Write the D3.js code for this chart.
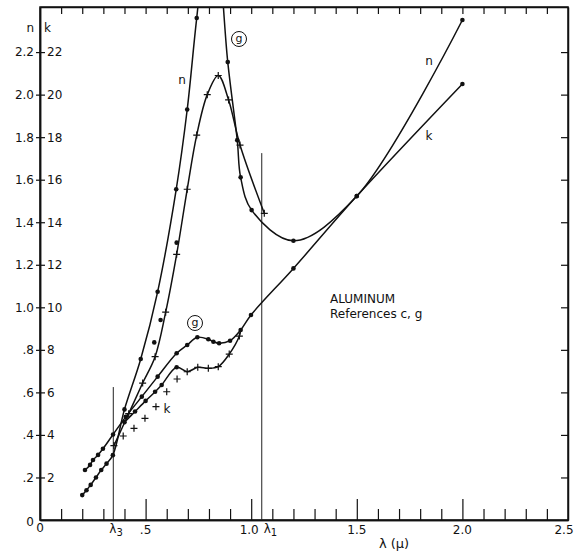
<!DOCTYPE html>
<html>
<head>
<meta charset="utf-8">
<script src="https://cdnjs.cloudflare.com/ajax/libs/d3/7.8.5/d3.min.js"></script>
<style>
  body { margin: 0; background: #fff; }
  text { font-family: "DejaVu Sans", sans-serif; fill: #111; }
</style>
</head>
<body>
<div id="chart"></div>
<script>
// wavelength in microns; n is read on the left scale, k on the right (k = 10 x n scale)
var nC = [[0.200,0.117],[0.220,0.140],[0.240,0.165],[0.265,0.200],[0.290,0.235],[0.315,0.265],
          [0.345,0.305],[0.400,0.520],[0.477,0.757],[0.557,1.073],[0.645,1.555],[0.697,1.930],
          [0.742,2.360],[0.815,2.950],[0.889,2.153],[0.934,1.786],[0.950,1.611],[1.002,1.457],
          [1.200,1.313],[1.500,1.523],[2.000,2.351]];
var nG = [[0.350,0.350],[0.420,0.500],[0.486,0.644],[0.545,0.768],[0.595,0.977],[0.647,1.249],
          [0.697,1.555],[0.742,1.810],[0.792,2.000],[0.844,2.090],[0.893,1.975],[0.947,1.763],
          [1.062,1.442]];
var nCExtra = [[0.541,0.835],[0.571,0.940],[0.647,1.304]];

var kC = [[0.213,2.35],[0.237,2.59],[0.251,2.82],[0.275,3.06],[0.298,3.35],[0.346,4.02],
          [0.406,4.85],[0.482,5.80],[0.557,6.74],[0.647,7.84],[0.697,8.23],[0.745,8.59],
          [0.797,8.50],[0.821,8.38],[0.848,8.31],[0.900,8.43],[0.950,8.93],[0.999,9.64],
          [1.200,11.83],[1.500,15.23],[2.000,20.50]];
var kCLow = [[0.400,4.60],[0.450,5.10],[0.500,5.60],[0.545,6.03],[0.576,6.35],[0.647,7.18]];
var kGLine = [[0.697,6.97],[0.747,7.18],[0.797,7.13],[0.844,7.21],[0.896,7.80],[0.944,8.65]];
var kGLineEnd = [0.950,8.93];
var kGLoose = [[0.394,3.95],[0.445,4.31],[0.497,4.78],[0.549,5.33],[0.600,6.03],[0.649,6.63]];

var nTicks = [0.2,0.4,0.6,0.8,1.0,1.2,1.4,1.6,1.8,2.0,2.2];
var nTickLabels = [".2",".4",".6",".8","1.0","1.2","1.4","1.6","1.8","2.0","2.2"];
var kTickLabels = ["2","4","6","8","10","12","14","16","18","20","22"];
var xLabels = [[0,"0"],[0.5,".5"],[1.0,"1.0"],[1.5,"1.5"],[2.0,"2.0"],[2.5,"2.5"]];
// marked wavelengths: [lambda, top of line in n units, subscript]
var lambdaMarks = [[0.347,0.625,"3"],[1.05,1.725,"1"]];

var W = 576, H = 554;
var svg = d3.select("#chart").append("svg").attr("width", W).attr("height", H);

var x = d3.scaleLinear().domain([0, 2.5]).range([40, 568]);
var y = d3.scaleLinear().domain([0, 2.412]).range([520, 7]);
var yk = d3.scaleLinear().domain([0, 24.12]).range([520, 7]);

svg.append("clipPath").attr("id", "plot")
  .append("rect").attr("x", 40).attr("y", 7).attr("width", 528).attr("height", 513);

// frame
svg.append("rect").attr("x", 40).attr("y", 7).attr("width", 528).attr("height", 513)
  .attr("fill", "none").attr("stroke", "#111").attr("stroke-width", 1.5);

var minor = d3.range(1, 25).map(function(i) { return i / 10; }).filter(function(v) { return Math.round(v * 10) % 5 != 0; });
var major = [0.5, 1.0, 1.5, 2.0];

// bottom ticks (pointing up)
svg.append("g").attr("transform", "translate(0,520)")
  .call(d3.axisBottom(x).tickValues(minor).tickSize(-11).tickFormat("").tickSizeOuter(0));
svg.append("g").attr("transform", "translate(0,520)")
  .call(d3.axisBottom(x).tickValues(major).tickSize(-21).tickFormat("").tickSizeOuter(0));
// top ticks
svg.append("g").attr("transform", "translate(0,7)")
  .call(d3.axisTop(x).tickValues(d3.range(1, 25).map(function(i) { return i / 10; })).tickSize(-7).tickFormat("").tickSizeOuter(0));
// right ticks
svg.append("g").attr("transform", "translate(568,0)")
  .call(d3.axisRight(y).tickValues(nTicks).tickSize(-7).tickFormat("").tickSizeOuter(0));

// left axis: n labels on the left, k labels on the right
svg.append("g").attr("transform", "translate(40,0)")
  .call(d3.axisLeft(y).tickValues(nTicks).tickSize(4).tickPadding(2)
    .tickFormat(function(d, i) { return nTickLabels[i]; }).tickSizeOuter(0));
svg.append("g").attr("transform", "translate(40,0)")
  .call(d3.axisRight(y).tickValues(nTicks).tickSize(5).tickPadding(2)
    .tickFormat(function(d, i) { return kTickLabels[i]; }).tickSizeOuter(0));

svg.selectAll(".domain").attr("stroke", "#111").attr("stroke-width", 1.5);
svg.selectAll(".tick line").attr("stroke", "#111").attr("stroke-width", 1.2);
svg.selectAll(".tick text").style("font-family", "DejaVu Sans").style("font-size", "12px").attr("fill", "#111");

// header and zero labels
svg.append("text").attr("x", 34).attr("y", 32).attr("text-anchor", "end").style("font-size", "12px").text("n");
svg.append("text").attr("x", 44).attr("y", 32).style("font-size", "12px").text("k");
svg.append("text").attr("x", 30).attr("y", 526).attr("text-anchor", "middle").style("font-size", "12px").text("0");

// bottom labels
svg.selectAll(".xlab").data(xLabels).enter().append("text")
  .attr("x", function(d) { return x(d[0]) - (d[0] == 1.0 ? 2 : 0) - (d[0] == 2.5 ? 4 : 0); })
  .attr("y", function(d) { return d[0] == 0 ? 532 : 534; })
  .attr("text-anchor", "middle").style("font-size", "12px")
  .text(function(d) { return d[1]; });

svg.selectAll(".lmark").data(lambdaMarks).enter().append("line")
  .attr("x1", function(d) { return x(d[0]); }).attr("x2", function(d) { return x(d[0]); })
  .attr("y1", function(d) { return y(d[1]); }).attr("y2", y(0))
  .attr("stroke", "#222").attr("stroke-width", 1);
var lt = svg.selectAll(".ltext").data(lambdaMarks).enter().append("text")
  .attr("x", function(d) { return x(d[0]) + (d[2] == "1" ? 2 : -4); })
  .attr("y", 533).style("font-size", "12px");
lt.append("tspan").text("λ");
lt.append("tspan").attr("dy", 3).style("font-size", "10px").text(function(d) { return d[2]; });

svg.append("text").attr("x", 394).attr("y", 548).attr("text-anchor", "middle")
  .style("font-size", "13px").text("λ (μ)");

// curves
var plot = svg.append("g").attr("clip-path", "url(#plot)");
var lineN = d3.line().x(function(d) { return x(d[0]); }).y(function(d) { return y(d[1]); })
  .curve(d3.curveCatmullRom.alpha(0.5));
var lineK = d3.line().x(function(d) { return x(d[0]); }).y(function(d) { return yk(d[1]); })
  .curve(d3.curveCatmullRom.alpha(0.5));

function curve(data, gen) {
  plot.append("path").datum(data).attr("d", gen)
    .attr("fill", "none").attr("stroke", "#111").attr("stroke-width", 1.5);
}
function dots(data, sc) {
  plot.append("g").selectAll("circle").data(data).enter().append("circle")
    .attr("cx", function(d) { return x(d[0]); }).attr("cy", function(d) { return sc(d[1]); })
    .attr("r", 2.3).attr("fill", "#111");
}
function crosses(data, sc) {
  plot.append("g").selectAll("path").data(data).enter().append("path")
    .attr("transform", function(d) { return "translate(" + x(d[0]) + "," + sc(d[1]) + ")"; })
    .attr("d", "M-3.5,0H3.5M0,-3.5V3.5")
    .attr("stroke", "#111").attr("stroke-width", 1.2);
}

curve(nC, lineN); dots(nC, y);
curve(nG, lineN); crosses(nG, y); dots(nCExtra, y);
curve(kC, lineK); dots(kC, yk);
curve(kCLow.concat(kGLine, [kGLineEnd]), lineK); dots(kCLow, yk); crosses(kGLine, yk);
crosses(kGLoose, yk);

// annotations
svg.append("text").attr("x", 182).attr("y", 84).attr("text-anchor", "middle").style("font-size", "12px").text("n");
svg.append("text").attr("x", 429).attr("y", 65).attr("text-anchor", "middle").style("font-size", "12px").text("n");
svg.append("text").attr("x", 429).attr("y", 140).attr("text-anchor", "middle").style("font-size", "12px").text("k");
svg.append("text").attr("x", 167).attr("y", 413).attr("text-anchor", "middle").style("font-size", "12px").text("k");
[[239, 39], [195, 323]].forEach(function(p) {
  svg.append("circle").attr("cx", p[0]).attr("cy", p[1]).attr("r", 7.5)
    .attr("fill", "#fff").attr("stroke", "#111").attr("stroke-width", 1);
  svg.append("text").attr("x", p[0]).attr("y", p[1] + 3).attr("text-anchor", "middle")
    .style("font-size", "11px").text("g");
});
svg.append("text").attr("x", 330).attr("y", 303).style("font-size", "12px").text("ALUMINUM");
svg.append("text").attr("x", 330).attr("y", 318).style("font-size", "12px").text("References c, g");
</script>
</body>
</html>
